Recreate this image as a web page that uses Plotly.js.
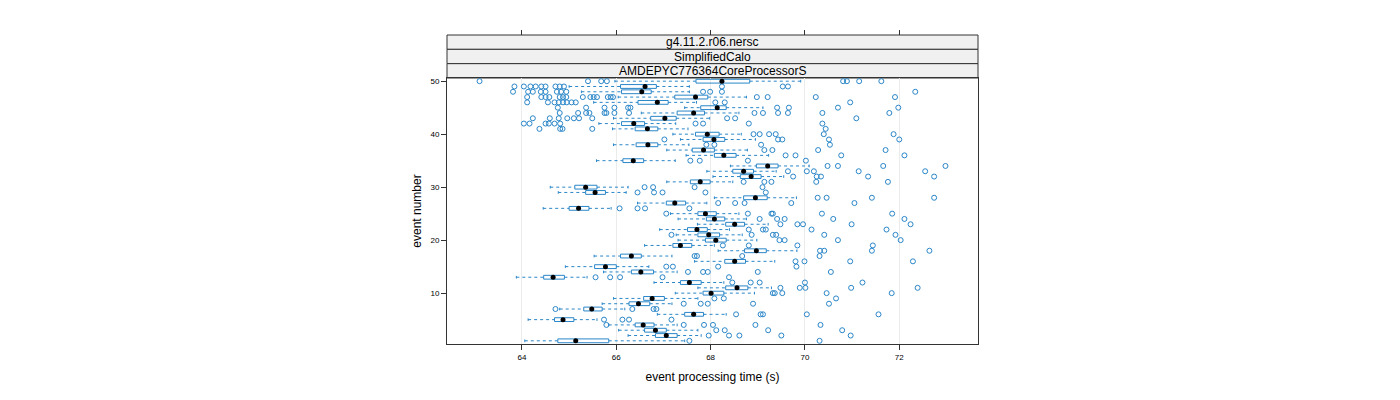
<!DOCTYPE html>
<html><head><meta charset="utf-8">
<script src="https://cdn.plot.ly/plotly-3.0.1.min.js"></script>
<style>body{margin:0;background:#fff}#chart{width:1400px;height:400px}</style>
</head><body><div id="chart"></div>
<script>
// ---- data (event processing time in seconds) ----
const events = [1,2,3,4,5,6,7,8,9,10,11,12,13,14,15,16,17,18,19,20,21,22,23,24,25,26,27,28,29,30,31,32,33,34,35,36,37,38,39,40,41,42,43,44,45,46,47,48,49,50];
const lowerWhisker = [64.06,66.25,66.05,65.84,64.13,66.87,64.80,65.70,65.94,67.25,67.73,66.80,63.88,65.73,64.92,67.66,65.53,68.16,66.60,67.31,67.27,66.92,67.72,67.31,67.15,64.45,66.45,68.08,64.77,64.60,67.07,68.05,67.92,68.42,65.58,67.48,67.07,65.94,67.36,67.20,65.92,65.63,65.94,66.53,67.45,65.52,66.04,65.26,65.00,65.97];
const q1 = [64.76,66.83,66.60,66.40,64.69,67.45,65.31,66.27,66.58,67.84,68.32,67.36,64.46,66.32,65.54,68.30,66.09,68.72,67.20,67.89,67.73,67.51,68.32,67.91,67.73,65.00,67.06,68.70,65.35,65.12,67.57,68.63,68.47,68.97,66.14,68.08,67.61,66.42,67.84,67.68,66.40,66.11,66.73,67.29,67.79,66.46,67.24,66.11,66.09,67.69];
const medians = [65.14,67.06,66.83,66.57,64.87,67.64,65.48,66.47,66.76,68.01,68.56,67.55,64.66,66.52,65.77,68.51,66.32,68.97,67.36,68.11,67.96,67.71,68.51,68.08,67.89,65.20,67.24,68.95,65.55,65.35,67.78,68.86,68.70,69.21,66.36,68.28,67.85,66.67,68.07,67.93,66.66,66.37,67.03,67.64,68.14,66.87,67.68,66.54,66.61,68.24];
const q3 = [65.84,67.29,67.06,66.80,65.10,67.85,65.70,66.71,67.02,68.28,68.79,67.80,64.90,66.79,66.00,68.74,66.53,69.18,67.60,68.33,68.19,67.93,68.72,68.30,68.12,65.42,67.47,69.20,65.77,65.59,67.99,69.07,68.91,69.43,66.58,68.54,68.08,66.88,68.30,68.18,66.88,66.60,67.27,67.87,68.33,67.10,67.94,66.74,66.85,68.83];
const upperWhisker = [67.45,67.80,67.73,67.29,65.59,68.33,66.18,67.18,67.73,68.93,69.29,68.28,65.38,67.29,66.69,69.36,67.18,69.83,68.08,68.98,68.67,68.40,69.22,68.76,68.60,65.89,67.92,69.82,66.21,66.25,68.47,69.55,69.39,70.09,67.25,69.23,68.78,67.54,68.95,68.65,67.52,67.26,67.98,68.60,69.11,67.70,68.76,67.55,67.55,69.91];
const outliers = [
  [67.55,70.31],
  [67.96,68.39,68.61,69.50,70.97],
  [68.12,68.30,69.22,70.79],
  [65.79,67.43,67.86,68.05,68.95,70.33],
  [65.74,66.13,66.27,67.17],
  [68.54,69.06,69.11,70.04,71.56],
  [64.71,66.34,66.79,66.85],
  [67.43,67.79,67.94,68.90,70.51],
  [68.08,68.28,70.66],
  [69.32,69.36,69.52,70.46,71.84],
  [69.48,69.89,70.01,70.98,72.39],
  [68.46,68.85,69.04,70.00,71.22],
  [65.56,65.87,66.08,66.98,68.39],
  [67.52,67.84,67.94,69.00,70.55],
  [67.06,67.20,68.16,69.82],
  [69.80,69.99,70.96,72.29],
  [67.66,67.71,68.67,70.31],
  [70.32,70.41,71.42,72.64],
  [68.26,68.81,69.84,71.44],
  [69.46,69.57,70.70,72.03],
  [67.17,68.87,69.32,69.39,70.41,71.92],
  [68.81,69.11,69.17,70.14,71.73],
  [69.48,69.84,69.96,70.99,72.24],
  [69.04,69.41,69.57,70.60,72.11],
  [67.06,68.79,69.29,69.32,70.36,71.85],
  [66.07,66.45,66.61,67.55],
  [68.16,68.52,68.72,69.71,71.05],
  [70.27,70.46,71.42,72.74],
  [66.45,66.80,66.98,67.89,69.17],
  [66.60,66.78,67.66,69.10],
  [68.70,69.14,69.29,70.24,71.76],
  [69.75,70.25,70.34,71.34,72.74],
  [69.64,70.04,70.19,71.14,72.55],
  [70.48,70.70,71.66,72.98],
  [67.57,67.77,68.79,70.02],
  [69.59,69.80,70.77,72.11],
  [69.14,69.31,70.28,71.71],
  [67.91,68.08,69.07,70.53],
  [67.02,69.43,69.52,70.51,72.00],
  [68.91,69.04,69.24,69.38,70.40,71.88],
  [64.37,64.81,64.86,65.49,70.44],
  [64.04,64.16,64.50,64.57,64.69,64.81,67.68,67.84,68.81,70.37],
  [64.23,64.59,64.78,64.96,65.10,65.21,65.49,68.35,68.52,71.09],
  [64.80,65.19,65.36,65.43,65.75,65.79,65.96,66.27,68.93,69.11,69.43,69.64,70.37,71.79],
  [64.76,65.36,65.75,65.96,66.25,66.30,69.41,69.66,70.70,71.98],
  [64.11,64.55,64.69,64.78,64.87,64.95,65.05,65.14,68.10,68.30,70.96],
  [64.11,64.41,64.50,64.58,64.80,64.87,64.94,65.29,65.45,65.52,65.59,65.82,65.88,65.93,68.98,69.21,70.23,71.91],
  [63.81,64.13,64.23,64.40,64.50,64.74,64.83,64.94,67.84,67.99,68.24,72.34],
  [63.84,64.04,64.18,64.29,64.41,64.50,64.71,64.80,64.89,68.24,69.53,69.64],
  [63.10,65.40,65.68,65.80,70.81,70.89,71.15,71.62]
];
const xTicks = [64,66,68,70,72];
const yTicks = [10,20,30,40,50];
const stripLabels = ["g4.11.2.r06.nersc","SimplifiedCalo","AMDEPYC776364CoreProcessorS"];
const xTitle = "event processing time (s)";
const yTitle = "event number";

// ---- styling ----
const BLUE = "#2a86c8";
const BOX_H = 0.36, CAP_H = 0.25;
const FONT = "Liberation Sans, Arial, Helvetica, sans-serif";

// ---- build marks from data ----
const wx=[], wy=[], cx=[], cy=[], bx=[], by=[], ox=[], oy=[];
events.forEach((e,i)=>{
  wx.push(lowerWhisker[i], q1[i], null, q3[i], upperWhisker[i], null);
  wy.push(e, e, null, e, e, null);
  cx.push(lowerWhisker[i], lowerWhisker[i], null, upperWhisker[i], upperWhisker[i], null);
  cy.push(e-CAP_H, e+CAP_H, null, e-CAP_H, e+CAP_H, null);
  bx.push(q1[i], q3[i], q3[i], q1[i], q1[i], null);
  by.push(e-BOX_H, e-BOX_H, e+BOX_H, e+BOX_H, e-BOX_H, null);
  outliers[i].forEach(v=>{ ox.push(v); oy.push(e); });
});

const traces = [
  {x:wx, y:wy, mode:"lines", line:{color:BLUE, width:1, dash:"3px,3px"}, hoverinfo:"skip"},
  {x:cx, y:cy, mode:"lines", line:{color:BLUE, width:1}, hoverinfo:"skip"},
  {x:bx, y:by, mode:"lines", line:{color:BLUE, width:1}, hoverinfo:"skip"},
  {x:ox, y:oy, mode:"markers", marker:{symbol:"circle-open", size:5, color:BLUE, line:{width:1, color:BLUE}}},
  {x:medians, y:events, mode:"markers", marker:{symbol:"circle", size:5, color:"#000"}}
];

const XR = [62.41, 73.67];
const PT = 35, PB = 344, PANEL_TOP = 78;
const H = PB - PT;
const yTop = (PB - PANEL_TOP)/H;
const stripH = (1 - yTop)/3;

const shapes = [], annotations = [];
stripLabels.forEach((s,k)=>{
  const y0 = 1 - (k+1)*stripH, y1 = 1 - k*stripH;
  shapes.push({type:"rect", xref:"paper", yref:"paper", x0:0, x1:1, y0:y0, y1:y1,
    fillcolor:"#f0f0f0", line:{color:"#333", width:1}, layer:"below"});
  annotations.push({xref:"paper", yref:"paper", x:0.5, y:(y0+y1)/2, text:s, showarrow:false,
    font:{family:FONT, size:12, color:"#000"}, xanchor:"center", yanchor:"middle"});
});

const layout = {
  width:1400, height:400,
  margin:{l:447, r:422, t:PT, b:400-PB, pad:0},
  paper_bgcolor:"#fff", plot_bgcolor:"#fff",
  showlegend:false,
  font:{family:FONT, color:"#000"},
  xaxis:{range:XR, tickvals:xTicks, ticktext:xTicks.map(String), ticks:"outside", ticklen:5, tickcolor:"#333",
    tickfont:{size:8}, showgrid:true, gridcolor:"#ebebeb", zeroline:false, showline:true, linecolor:"#333", mirror:true,
    title:{text:xTitle, font:{size:12}, standoff:12}},
  xaxis2:{range:XR, overlaying:"x", side:"top", anchor:"free", position:1, tickvals:xTicks, ticks:"outside", ticklen:5,
    tickcolor:"#333", showticklabels:false, showgrid:false, zeroline:false, showline:false},
  yaxis:{domain:[0,yTop], range:[0.4,50.6], tickvals:yTicks, ticktext:yTicks.map(String), ticks:"outside", ticklen:5,
    tickcolor:"#333", tickfont:{size:8}, showgrid:false, zeroline:false, showline:true, linecolor:"#333", mirror:true,
    title:{text:yTitle, font:{size:12}, standoff:6}},
  shapes:shapes, annotations:annotations
};
traces.push({x:XR, y:[1,1], xaxis:"x2", mode:"lines", line:{width:0}, hoverinfo:"skip", showlegend:false});

Plotly.newPlot("chart", traces, layout, {displayModeBar:false, staticPlot:true});
</script>
</body></html>
